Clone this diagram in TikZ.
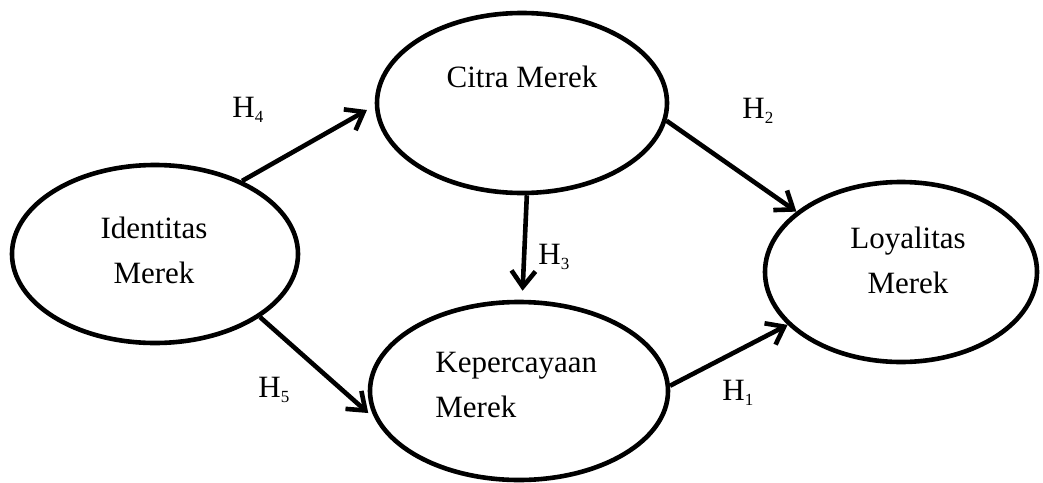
\documentclass[tikz,border=0pt]{standalone}
\usepackage{fontspec}
\setmainfont{Liberation Serif}
\usetikzlibrary{arrows.meta,shapes.geometric}
\newcommand{\hyp}[1]{H\raisebox{-2.5pt}{\fontsize{8.5}{8.5}\selectfont #1}}
\begin{document}
\begin{tikzpicture}[x=0.5pt,y=-0.5pt,
  construct/.style={draw,ellipse,line width=2.3pt,inner sep=0pt},
  conn/.style={line width=2.3pt,-{Straight Barb[length=8pt,width=12pt]}},
  lbl/.style={font=\fontsize{15.5}{22.5}\selectfont,inner sep=0pt},
]
\useasboundingbox (0,0) rectangle (1043,482);
% constructs
\node[construct,minimum width=143pt,minimum height=89pt] (id) at (155,254) {};
\node[construct,minimum width=145pt,minimum height=90pt] (ct) at (522,103) {};
\node[construct,minimum width=149pt,minimum height=89pt] (kp) at (519,391) {};
\node[construct,minimum width=136pt,minimum height=90pt] (ly) at (901,272) {};
% texts (base anchor = baseline of the last line)
\node[lbl,align=center,anchor=base] (idt) at (154,283) {Identitas\\Merek};
\node[lbl,anchor=base] (ctt) at (522,87) {Citra Merek};
\node[lbl,align=left,anchor=base west] (kpt) at (435,417) {Kepercayaan\\Merek};
\node[lbl,align=center,anchor=base] (lyt) at (908,293) {Loyalitas\\Merek};
% connectors
\draw[conn,shorten >=4.5pt] (id.40) -- (ct.181);
\draw[conn] (ct.-7) -- (ly.150.5);
\draw[conn,shorten >=4.5pt] (ct.-87) -- (kp.88);
\draw[conn,shorten >=4.5pt] (id.-31) -- (kp.191);
\draw[conn] (kp.2) -- (ly.205);
% hypothesis labels
\node[lbl,anchor=base west] (h4) at (232,117) {\hyp{4}};
\node[lbl,anchor=base west] (h2) at (742,118) {\hyp{2}};
\node[lbl,anchor=base west] (h3) at (538,264) {\hyp{3}};
\node[lbl,anchor=base west] (h5) at (258,397) {\hyp{5}};
\node[lbl,anchor=base west] (h1) at (722,400) {\hyp{1}};
\end{tikzpicture}
\end{document}
